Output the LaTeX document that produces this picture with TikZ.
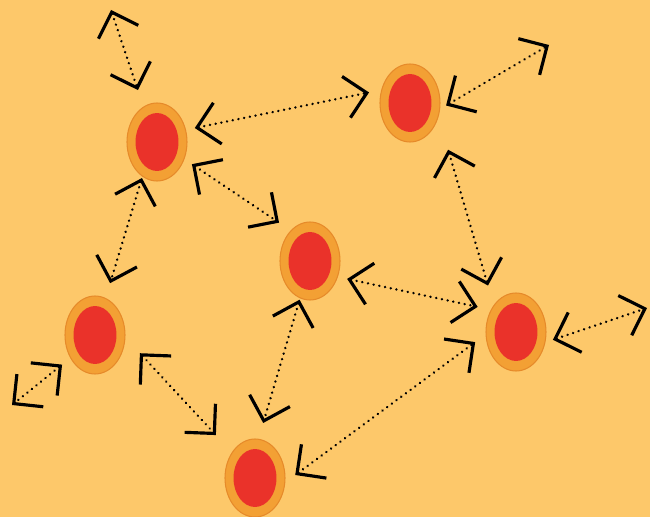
\documentclass[tikz,border=0pt]{standalone}
\usepackage{tikz}
\usetikzlibrary{shapes,arrows.meta,positioning,calc}

\definecolor{bgorange}{RGB}{253,200,106}
\definecolor{ringorange}{RGB}{243,160,52}
\definecolor{ringedge}{RGB}{230,138,42}
\definecolor{corered}{RGB}{234,50,42}

\begin{document}
\begin{tikzpicture}[
    x=0.02cm, y=-0.02cm,
    cell/.style={ellipse, draw=ringedge, line width=0.6pt, fill=ringorange, minimum width=1.2cm, minimum height=1.56cm, inner sep=0pt, outer sep=0pt,
        path picture={\fill[corered] (path picture bounding box.center) ellipse (0.43cm and 0.58cm);}},
    link/.style={>={Straight Barb[length=0.42cm,width=0.84cm,line width=1.8pt]}, <->, line width=1.5pt, line cap=round, dash pattern=on 0.01pt off 3.3pt}
]

% Background
\fill[bgorange] (0,0) rectangle (650,517);
\useasboundingbox (0,0) rectangle (650,517);

% Cells
\node[cell] (c_tl) at (157,142) {};
\node[cell] (c_tr) at (410,103) {};
\node[cell] (c_mid) at (310,261) {};
\node[cell] (c_l) at (95,335) {};
\node[cell] (c_r) at (516,332) {};
\node[cell] (c_b) at (255,478) {};

% Free ends
\coordinate (e_tl) at (111,10);
\coordinate (e_tr) at (549,45);
\coordinate (e_r) at (647,308);
\coordinate (e_l) at (12,405);

% Links
\draw[link, shorten >=0.36cm] (e_tl) -- (c_tl.111);
\draw[link, shorten <=0.19cm, shorten >=0.26cm] (c_tl.23) -- (c_tr.155);
\draw[link, shorten <=0.15cm] (c_tr.348) -- (e_tr);
\draw[link, shorten <=0.19cm, shorten >=0.29cm] (c_tl.328) -- (c_mid.122);
\draw[link, shorten <=0.04cm, shorten >=0.32cm] (c_tl.247) -- (c_l.74);
\draw[link, shorten <=0.70cm, shorten >=0.42cm] (c_tr.335) -- (c_r.130);
\draw[link, shorten <=0.20cm, shorten >=0.28cm] (c_mid.330) -- (c_r.138);
\draw[link, shorten <=0.17cm] (c_r.340) -- (e_r);
\draw[link, shorten <=0.22cm] (c_l.223) -- (e_l);
\draw[link, shorten <=0.44cm, shorten >=0.48cm] (c_l.356) -- (c_b.132);
\draw[link, shorten <=0.04cm, shorten >=0.34cm] (c_mid.255) -- (c_b.85);
\draw[link, shorten <=0.26cm, shorten >=0.27cm] (c_b.351) -- (c_r.184);

\end{tikzpicture}
\end{document}
